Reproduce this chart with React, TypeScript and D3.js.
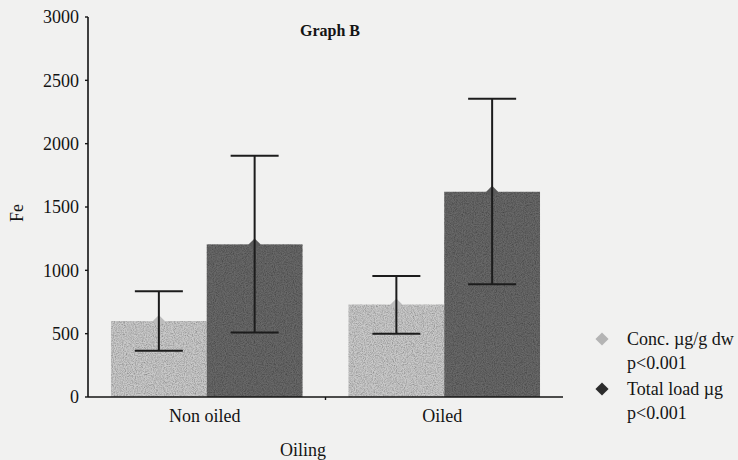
import React from 'react';
import * as d3 from 'd3';

const categories = ['Non oiled', 'Oiled'];
const seriesNames = ['Conc. µg/g dw', 'Total load µg'];
const seriesNotes = ['p<0.001', 'p<0.001'];

// means and error-bar ends
const concMean = [600, 730];
const concLow = [365, 500];
const concHigh = [835, 955];
const totalMean = [1205, 1620];
const totalLow = [510, 890];
const totalHigh = [1905, 2355];

const yTicks = [0, 500, 1000, 1500, 2000, 2500, 3000];

const W = 738;
const H = 460;
const font = '"Liberation Serif", "Times New Roman", serif';

const barFill = ['#c9c9c9', '#676767'];
const markFill = ['#bcbcbc', '#5a5a5a'];
const legendFill = ['#b4b4b4', '#2c2c2c'];

export default function App() {
  const margin = { left: 88, right: 175, top: 17, bottom: 63 };

  const y = d3.scaleLinear().domain([0, 3000]).range([H - margin.bottom, margin.top]);
  const x0 = d3.scaleBand<string>().domain(categories).range([margin.left, W - margin.right]);
  const x1 = d3.scaleBand<string>().domain(seriesNames).range([0, x0.bandwidth()]).paddingOuter(0.24);

  const rows = categories.flatMap((c, i) => [
    { cat: c, s: 0, mean: concMean[i], lo: concLow[i], hi: concHigh[i] },
    { cat: c, s: 1, mean: totalMean[i], lo: totalLow[i], hi: totalHigh[i] },
  ]);

  const diamond = d3.symbol().type(d3.symbolDiamond2).size(90)();
  const legendDiamond = d3.symbol().type(d3.symbolDiamond2).size(110)();
  const capHalf = 24;
  const y0 = y(0);
  const ink = '#141414';

  return (
    <svg
      width={W}
      height={H}
      style={{ position: 'absolute', left: 0, top: 0, display: 'block', background: '#f1f1f0' }}
      fontFamily={font}
    >
      <defs>
        <filter id="grain" x="0" y="0" width="100%" height="100%">
          <feTurbulence type="fractalNoise" baseFrequency="0.9" numOctaves="2" seed="4" result="noise" />
          <feColorMatrix
            in="noise"
            type="matrix"
            values="0 0 0 0 0  0 0 0 0 0  0 0 0 0 0  1.0 0 0 0 -0.35"
            result="dots"
          />
          <feComposite in="dots" in2="SourceGraphic" operator="in" result="clipped" />
          <feMerge>
            <feMergeNode in="SourceGraphic" />
            <feMergeNode in="clipped" />
          </feMerge>
        </filter>
      </defs>
      <rect width={W} height={H} fill="#f1f1f0" />

      {/* bars */}
      {rows.map((d, i) => (
        <rect
          key={'b' + i}
          x={(x0(d.cat) ?? 0) + (x1(seriesNames[d.s]) ?? 0)}
          y={y(d.mean)}
          width={x1.bandwidth()}
          height={y0 - y(d.mean)}
          fill={barFill[d.s]}
          filter="url(#grain)"
        />
      ))}

      {/* mean markers */}
      {rows.map((d, i) => {
        const cx = (x0(d.cat) ?? 0) + (x1(seriesNames[d.s]) ?? 0) + x1.bandwidth() / 2;
        return (
          <path key={'m' + i} d={diamond ?? ''} transform={`translate(${cx},${y(d.mean)})`} fill={markFill[d.s]} />
        );
      })}

      {/* error bars */}
      {rows.map((d, i) => {
        const cx = (x0(d.cat) ?? 0) + (x1(seriesNames[d.s]) ?? 0) + x1.bandwidth() / 2;
        return (
          <g key={'e' + i} stroke="#1c1c1c" strokeWidth={2}>
            <line x1={cx} x2={cx} y1={y(d.hi)} y2={y(d.lo)} />
            <line x1={cx - capHalf} x2={cx + capHalf} y1={y(d.hi)} y2={y(d.hi)} />
            <line x1={cx - capHalf} x2={cx + capHalf} y1={y(d.lo)} y2={y(d.lo)} />
          </g>
        );
      })}

      {/* y axis */}
      <line x1={margin.left} x2={margin.left} y1={y(3000)} y2={y0} stroke={ink} strokeWidth={1.6} />
      {yTicks.map((t) => (
        <g key={'t' + t}>
          <line x1={margin.left - 3} x2={margin.left} y1={y(t)} y2={y(t)} stroke={ink} strokeWidth={1.4} />
          <text x={margin.left - 9} y={y(t)} dy="0.35em" textAnchor="end" fontSize={18} fill={ink}>
            {t}
          </text>
        </g>
      ))}
      <text
        transform={`translate(23,${(y(3000) + y0) / 2 + 6}) rotate(-90)`}
        textAnchor="middle"
        fontSize={18}
        fill={ink}
      >
        Fe
      </text>

      {/* x axis */}
      <line x1={margin.left} x2={W - margin.right} y1={y0} y2={y0} stroke={ink} strokeWidth={1.6} />
      {categories.slice(1).map((c) => (
        <line key={'xt' + c} x1={x0(c)} x2={x0(c)} y1={y0} y2={y0 + 3} stroke={ink} strokeWidth={1.4} />
      ))}
      {categories.map((c) => (
        <text
          key={'xl' + c}
          x={(x0(c) ?? 0) + x0.bandwidth() / 2 - 2}
          y={y0 + 19}
          dy="0.35em"
          textAnchor="middle"
          fontSize={18}
          fill={ink}
        >
          {c}
        </text>
      ))}
      <text x={303} y={y0 + 53} dy="0.35em" textAnchor="middle" fontSize={18} fill={ink}>
        Oiling
      </text>

      {/* title */}
      <text x={330} y={30} dy="0.35em" textAnchor="middle" fontSize={16} fontWeight="bold" fill={ink}>
        Graph B
      </text>

      {/* legend */}
      {seriesNames.map((s, i) => (
        <g key={'lg' + i} transform={`translate(602,${339 + i * 50})`}>
          <path d={legendDiamond ?? ''} fill={legendFill[i]} />
          <text x={25} y={0} dy="0.35em" fontSize={18} fill={ink}>
            {s}
          </text>
          <text x={25} y={24} dy="0.35em" fontSize={18} fill={ink}>
            {seriesNotes[i]}
          </text>
        </g>
      ))}
    </svg>
  );
}
